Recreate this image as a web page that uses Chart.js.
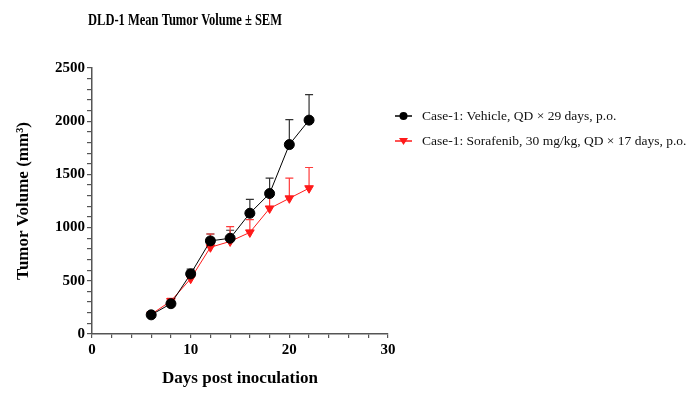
<!DOCTYPE html>
<html>
<head>
<meta charset="utf-8">
<script src="https://cdn.jsdelivr.net/npm/chart.js@4"></script>
<style>
  html, body { margin: 0; padding: 0; background: #fff; }
  #wrap { width: 693px; height: 415px; position: relative; }
</style>
</head>
<body>
<div id="wrap"><canvas id="chart"></canvas></div>
<script>
// data
const days = [6, 8, 10, 12, 14, 16, 18, 20, 22];
const vehicleMean = [180, 285, 565, 875, 900, 1135, 1320, 1780, 2010];
const vehicleSem = [12, 15, 45, 65, 75, 130, 145, 235, 240];
const sorafenibMean = [185, 310, 520, 815, 870, 955, 1180, 1275, 1370];
const sorafenibSem = [10, 25, 35, 125, 140, 120, 120, 190, 195];
const seriesNames = [
  'Case-1: Vehicle, QD \u00d7 29 days, p.o.',
  'Case-1: Sorafenib, 30 mg/kg, QD \u00d7 17 days, p.o.'
];
const chartTitle = 'DLD-1 Mean Tumor Volume \u00b1 SEM';

const serif = '"Liberation Serif", "Times New Roman", serif';
const red = '#ff1a1a';

// upper-only SEM bars, title and legend
const extras = {
  id: 'extras',
  beforeDatasetsDraw(chart) {
    const { ctx, scales: { x, y } } = chart;
    chart.data.datasets.forEach((ds) => {
      ctx.save();
      ctx.strokeStyle = ds.errColor;
      ctx.lineWidth = 1.2;
      ds.data.forEach((p, i) => {
        const px = x.getPixelForValue(p.x);
        const py = y.getPixelForValue(p.y);
        const top = y.getPixelForValue(p.y + ds.err[i]);
        ctx.beginPath();
        ctx.moveTo(px, py);
        ctx.lineTo(px, top);
        ctx.moveTo(px - 4, top);
        ctx.lineTo(px + 4, top);
        ctx.stroke();
      });
      ctx.restore();
    });
  },
  afterDraw(chart) {
    const { ctx } = chart;
    ctx.save();
    ctx.fillStyle = '#000';
    ctx.font = 'bold 17px ' + serif;
    ctx.textAlign = 'center';
    ctx.textBaseline = 'middle';
    ctx.fillText(chartTitle, 185, 21, 194);

    const rows = [116, 141];
    chart.data.datasets.forEach((ds, i) => {
      const yy = rows[i];
      ctx.strokeStyle = ds.borderColor;
      ctx.lineWidth = 1.5;
      ctx.beginPath();
      ctx.moveTo(395, yy);
      ctx.lineTo(412, yy);
      ctx.stroke();
      ctx.fillStyle = ds.pointBackgroundColor;
      ctx.beginPath();
      if (ds.pointStyle === 'circle') {
        ctx.arc(403.5, yy, 4, 0, Math.PI * 2);
      } else {
        ctx.moveTo(399, yy - 3);
        ctx.lineTo(408, yy - 3);
        ctx.lineTo(403.5, yy + 4);
        ctx.closePath();
      }
      ctx.fill();
      ctx.fillStyle = '#111';
      ctx.font = '13.5px ' + serif;
      ctx.textAlign = 'left';
      ctx.fillText(seriesNames[i], 422, yy);
    });
    ctx.restore();
  }
};

const toPoints = (ys) => days.map((d, i) => ({ x: d, y: ys[i] }));

new Chart(document.getElementById('chart'), {
  type: 'line',
  data: {
    datasets: [
      {
        label: seriesNames[0],
        data: toPoints(vehicleMean),
        err: vehicleSem,
        errColor: '#333',
        borderColor: '#000',
        borderWidth: 1,
        pointStyle: 'circle',
        pointRadius: 5,
        pointBackgroundColor: '#000',
        pointBorderColor: '#000',
        tension: 0
      },
      {
        label: seriesNames[1],
        data: toPoints(sorafenibMean),
        err: sorafenibSem,
        errColor: '#ff3b3b',
        borderColor: red,
        borderWidth: 1,
        pointStyle: 'triangle',
        rotation: 180,
        pointRadius: 5,
        pointBackgroundColor: red,
        pointBorderColor: red,
        tension: 0
      }
    ]
  },
  options: {
    responsive: true,
    maintainAspectRatio: false,
    animation: false,
    layout: { padding: { top: 68, right: 305, left: 0, bottom: 22 } },
    plugins: {
      legend: { display: false },
      tooltip: { enabled: false }
    },
    scales: {
      x: {
        type: 'linear',
        min: 0,
        max: 30,
        afterFit: (s) => { s.height = 59; },
        border: { color: '#555', width: 1.5 },
        grid: { drawOnChartArea: false, tickLength: 4, color: '#555', lineWidth: 1.2 },
        ticks: {
          stepSize: 2,
          autoSkip: false,
          maxRotation: 0,
          padding: 3,
          color: '#000',
          font: { family: serif, weight: 'bold', size: 15 },
          callback: (v) => (v % 10 === 0 ? v : '')
        },
        title: {
          display: true,
          text: 'Days post inoculation',
          color: '#000',
          font: { family: serif, weight: 'bold', size: 17 },
          padding: { top: 6 }
        }
      },
      y: {
        min: 0,
        max: 2500,
        afterFit: (s) => { s.width = 92; },
        border: { color: '#555', width: 1.5 },
        grid: { drawOnChartArea: false, tickLength: 5, color: '#555', lineWidth: 1.2 },
        ticks: {
          stepSize: 100,
          autoSkip: false,
          padding: 2,
          color: '#000',
          font: { family: serif, weight: 'bold', size: 15 },
          callback: (v) => (v % 500 === 0 ? v : '')
        },
        title: {
          display: true,
          text: 'Tumor Volume (mm\u00b3)',
          color: '#000',
          font: { family: serif, weight: 'bold', size: 17 },
          padding: { top: 13, bottom: 4 }
        }
      }
    }
  },
  plugins: [extras]
});
</script>
</body>
</html>
